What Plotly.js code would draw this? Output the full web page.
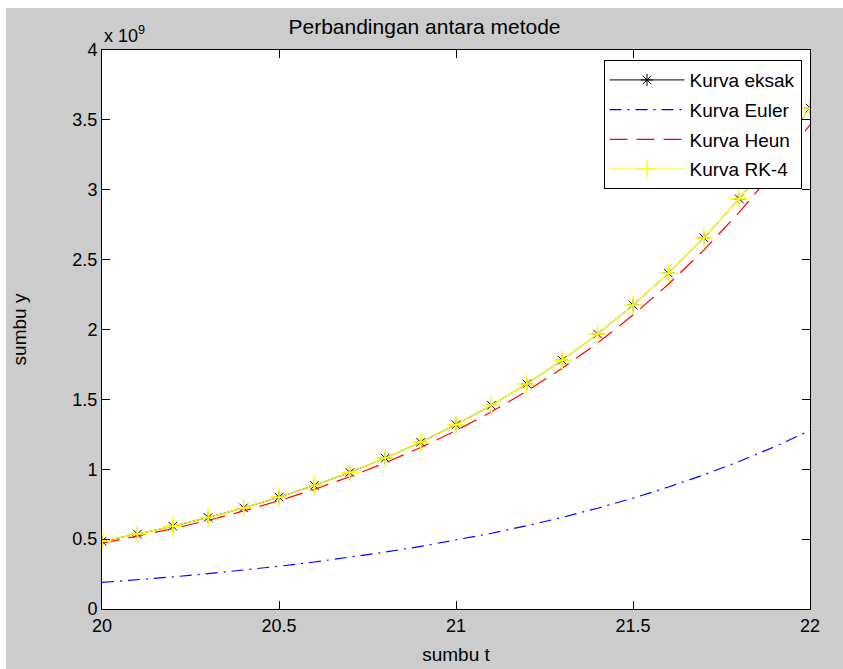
<!DOCTYPE html>
<html>
<head>
<meta charset="utf-8">
<script src="https://cdn.plot.ly/plotly-3.0.1.min.js"></script>
<style>
html,body{margin:0;padding:0;background:#ffffff;}
#chart{position:absolute;left:6px;top:8px;width:837px;height:661px;}
</style>
</head>
<body>
<div id="chart"></div>
<script>
// time points
var t = [20.0,20.1,20.2,20.3,20.4,20.5,20.6,20.7,20.8,20.9,21.0,21.1,21.2,21.3,21.4,21.5,21.6,21.7,21.8,21.9,22.0];
// values in units of 1e9
var yEksak = [0.4852,0.5362,0.5926,0.6549,0.7238,0.7999,0.8840,0.9770,1.0797,1.1933,1.3188,1.4575,1.6108,1.7802,1.9674,2.1743,2.4029,2.6556,2.9349,3.2436,3.5849];
var yEuler = [0.1899,0.2089,0.2298,0.2528,0.2780,0.3058,0.3364,0.3701,0.4071,0.4478,0.4926,0.5418,0.5960,0.6556,0.7212,0.7933,0.8726,0.9599,1.0559,1.1615,1.2776];
var yHeun  = [0.4704,0.5198,0.5744,0.6347,0.7013,0.7750,0.8563,0.9463,1.0456,1.1554,1.2767,1.4108,1.5589,1.7226,1.9035,2.1033,2.3242,2.5682,2.8379,3.1359,3.4651];
var yRK4   = [0.4852,0.5362,0.5926,0.6549,0.7238,0.7999,0.8840,0.9770,1.0797,1.1933,1.3188,1.4575,1.6108,1.7802,1.9674,2.1743,2.4029,2.6556,2.9349,3.2436,3.5849];
var xTicks = [20,20.5,21,21.5,22];
var xTickText = ['20','20.5','21','21.5','22'];
var yTicks = [0,0.5,1,1.5,2,2.5,3,3.5,4];
var yTickText = ['0','0.5','1','1.5','2','2.5','3','3.5','4'];
var names = ['Kurva eksak','Kurva Euler','Kurva Heun','Kurva RK-4'];

var traces = [
  {x:t, y:yEksak, name:names[0], legendgroup:'a', type:'scatter', mode:'lines+markers',
   line:{color:'#000000', width:1},
   marker:{symbol:'asterisk-open', size:10, color:'#000000', line:{color:'#000000', width:1}}},
  {x:t, y:yEuler, name:names[1], legendgroup:'b', type:'scatter', mode:'lines',
   line:{color:'#0000ff', width:1.2, dash:'12px,6px,2px,6px'}},
  {x:t, y:yHeun, name:names[2], legendgroup:'c', type:'scatter', mode:'lines',
   line:{color:'#ff0000', width:1.2, dash:'18px,9px'}},
  {x:t, y:yRK4, name:names[3], legendgroup:'d', type:'scatter', mode:'lines+markers',
   line:{color:'#ffff00', width:1.2},
   marker:{symbol:'cross-thin-open', size:13, color:'#ffff00', line:{color:'#ffff00', width:1.5}}}
];

var font = 'Liberation Sans, Arial, sans-serif';
var layout = {
  width:837, height:661,
  paper_bgcolor:'#cccccc', plot_bgcolor:'#ffffff',
  margin:{l:96, r:33, t:42, b:60},
  showlegend:true,
  title:{text:'Perbandingan antara metode', font:{family:font, size:21, color:'#000'}, x:0.5, xanchor:'center', y:0.983, yanchor:'top', yref:'container'},
  xaxis:{range:[20,22], tickvals:xTicks, ticktext:xTickText, ticks:'inside', ticklen:8, tickcolor:'#000',
    showgrid:false, zeroline:false, showline:true, linecolor:'#000', linewidth:1, mirror:'ticks',
    tickfont:{family:font, size:18, color:'#000'},
    title:{text:'sumbu t', font:{family:font, size:19, color:'#000'}, standoff:13}},
  yaxis:{range:[0,4], tickvals:yTicks, ticktext:yTickText, ticks:'inside', ticklen:8, tickcolor:'#000',
    showgrid:false, zeroline:false, showline:true, linecolor:'#000', linewidth:1, mirror:'ticks',
    tickfont:{family:font, size:18, color:'#000'},
    title:{text:'sumbu y', font:{family:font, size:19, color:'#000'}, standoff:40}},
  legend:{x:0.988, xanchor:'right', y:0.982, yanchor:'top', bgcolor:'#ffffff', bordercolor:'#000', borderwidth:1,
    font:{family:font, size:19, color:'#000'}, itemwidth:75, tracegroupgap:2},
  annotations:[{xref:'paper', yref:'paper', x:0, y:1, xanchor:'left', yanchor:'bottom', yshift:2, showarrow:false,
    text:'x 10<sup>9</sup>', font:{family:font, size:18, color:'#000'}}]
};
Plotly.newPlot('chart', traces, layout, {displayModeBar:false, staticPlot:true});
</script>
</body>
</html>
